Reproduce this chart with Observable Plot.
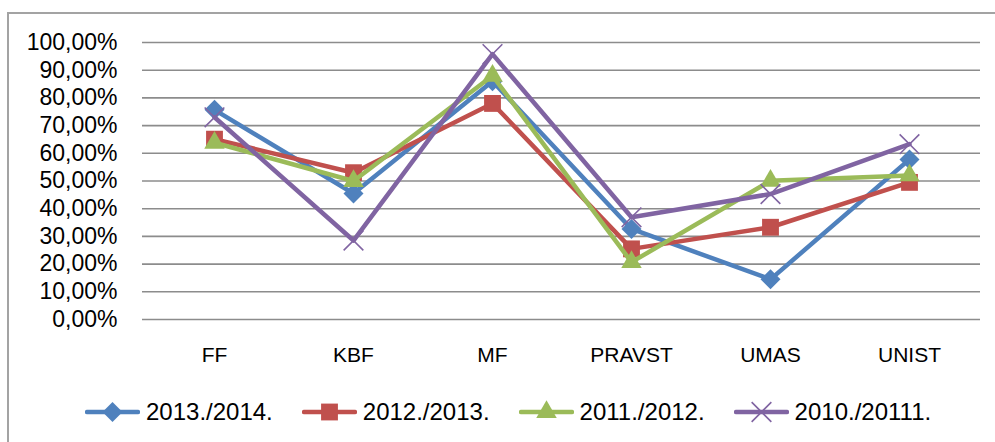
<!DOCTYPE html>
<html>
<head>
<meta charset="utf-8">
<script src="https://cdn.jsdelivr.net/npm/d3@7"></script>
<script src="https://cdn.jsdelivr.net/npm/@observablehq/plot@0.6"></script>
<style>
  html, body { margin: 0; padding: 0; background: #fff; overflow: hidden; width: 995px; height: 442px; }
  #frame { position: absolute; left: 7px; top: 12px; width: 1100px; height: 600px; border: 2px solid #a3a3a3; box-sizing: border-box; }
  #chart { position: absolute; left: 0; top: 0; }
  #legend { position: absolute; left: 85px; top: 399px; display: flex; align-items: center; gap: 29px;
            font-family: "Liberation Sans", Arial, sans-serif; font-size: 24px; color: #000; }
  .item { display: flex; align-items: center; }
  .item span { margin-left: 6px; line-height: 26px; }
</style>
</head>
<body>
<div id="frame"></div>
<div id="chart"></div>
<div id="legend"></div>
<script>
const categories = ["FF", "KBF", "MF", "PRAVST", "UMAS", "UNIST"];
const seriesNames = ["2013./2014.", "2012./2013.", "2011./2012.", "2010./20111."];
const values2013_2014 = [0.757, 0.455, 0.86, 0.327, 0.145, 0.578];
const values2012_2013 = [0.651, 0.53, 0.78, 0.255, 0.333, 0.495];
const values2011_2012 = [0.638, 0.50, 0.88, 0.207, 0.501, 0.52];
const values2010_2011 = [0.73, 0.285, 0.958, 0.369, 0.453, 0.633];
const yTicks = [0, 0.1, 0.2, 0.3, 0.4, 0.5, 0.6, 0.7, 0.8, 0.9, 1.0];
const colors = ["#4F81BD", "#C0504D", "#9BBB59", "#8064A2"];
const symbols = ["diamond2", "square", "triangle", "times"];
const symbolR = [9, 9.5, 7.6, 9];

const allValues = [values2013_2014, values2012_2013, values2011_2012, values2010_2011];
const table = [];
seriesNames.forEach((s, i) => categories.forEach((c, j) => table.push({series: s, cat: c, value: allValues[i][j]})));

const fmt = d => (d * 100).toFixed(2).replace(".", ",") + "%";

const marks = [
  Plot.gridY(yTicks, {stroke: "#8c8c8c", strokeOpacity: 1, strokeWidth: 1.6}),
  Plot.axisY(yTicks, {tickSize: 0, tickPadding: 25, tickFormat: fmt, fontSize: 23,
    fontFamily: "Liberation Sans, Arial, sans-serif", fill: "#000"}),
  Plot.axisX({tickSize: 0, tickPadding: 28, fontSize: 21,
    fontFamily: "Liberation Sans Narrow, Arial Narrow, Liberation Sans, sans-serif", fill: "#000"})
];
seriesNames.forEach((s, i) => {
  const data = table.filter(d => d.series === s);
  marks.push(Plot.line(data, {x: "cat", y: "value", stroke: colors[i], strokeWidth: 4.5, strokeLinejoin: "round", strokeLinecap: "round"}));
  if (symbols[i] === "times") {
    marks.push(Plot.dot(data, {x: "cat", y: "value", symbol: () => symbols[i], r: symbolR[i], stroke: colors[i], strokeWidth: 1.6, fill: "none"}));
  } else {
    marks.push(Plot.dot(data, {x: "cat", y: "value", symbol: () => symbols[i], r: symbolR[i], fill: colors[i], stroke: "none"}));
  }
});

const chart = Plot.plot({
  width: 995,
  height: 370,
  marginLeft: 142,
  marginRight: 15,
  marginTop: 42,
  marginBottom: 51,
  style: {background: "transparent", color: "#000"},
  x: {type: "point", domain: categories, padding: 0.5, label: null},
  y: {domain: [0, 1], label: null},
  symbol: {type: "identity"},
  marks
});
document.getElementById("chart").appendChild(chart);

// legend
const legend = d3.select("#legend");
seriesNames.forEach((s, i) => {
  const item = legend.append("div").attr("class", "item");
  const svg = item.append("svg").attr("width", 55).attr("height", 26);
  svg.append("line").attr("x1", 2).attr("x2", 53).attr("y1", 13).attr("y2", 13)
     .attr("stroke", colors[i]).attr("stroke-width", 4.5).attr("stroke-linecap", "round");
  const symMap = {diamond2: d3.symbolDiamond2, square: d3.symbolSquare, triangle: d3.symbolTriangle, times: d3.symbolTimes};
  const path = d3.symbol(symMap[symbols[i]], symbolR[i] * symbolR[i] * Math.PI)();
  const p = svg.append("path").attr("d", path).attr("transform", "translate(27.5,13)");
  if (symbols[i] === "times") p.attr("stroke", colors[i]).attr("stroke-width", 1.6).attr("fill", "none");
  else p.attr("fill", colors[i]);
  item.append("span").text(s);
});
</script>
</body>
</html>
